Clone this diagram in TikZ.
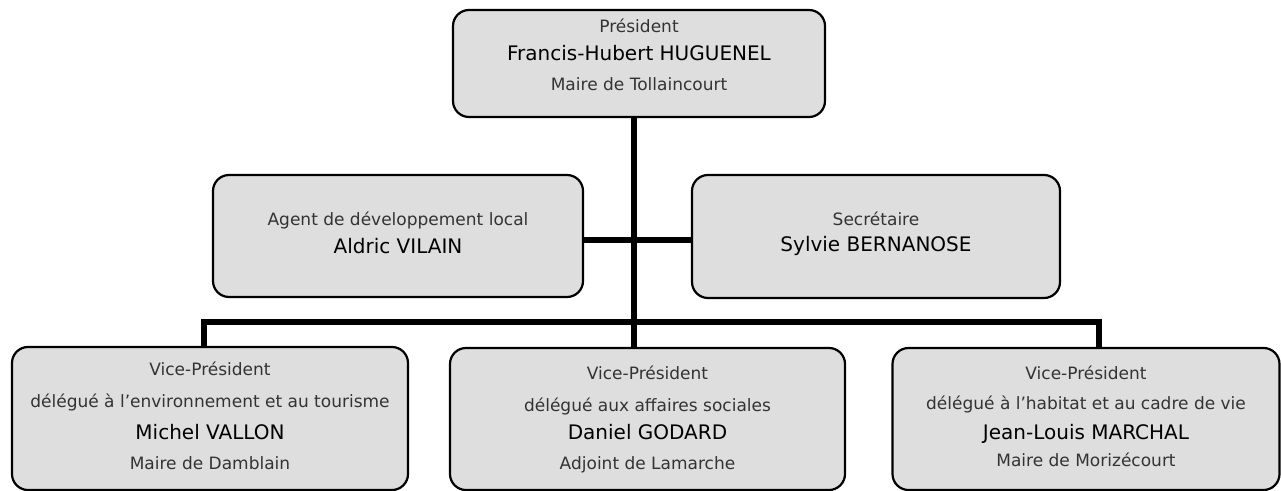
\documentclass[tikz,border=0pt]{standalone}
\usepackage{fontspec}
\setmainfont{DejaVu Sans}
\definecolor{boxfill}{HTML}{DEDEDE}
\definecolor{smalltext}{HTML}{333333}
\begin{document}
\begin{tikzpicture}[x=1pt,y=-1pt,
  box/.style={draw=black, line width=2.2pt, fill=boxfill, rounded corners=16pt, inner sep=0pt, outer sep=0pt},
  conn/.style={line width=6pt, line join=miter},
  sm/.style={anchor=mid, font=\fontsize{17}{19}\selectfont, text=smalltext, inner sep=0pt},
  nm/.style={anchor=mid, font=\fontsize{20}{23}\selectfont, text=black, inner sep=0pt}]
\useasboundingbox (0,0) rectangle (1281,490);
% boxes
\node[box, minimum width=372pt, minimum height=107pt] (top) at (639,63.5) {};
\node[box, minimum width=370pt, minimum height=122pt] (lm) at (398,236) {};
\node[box, minimum width=368pt, minimum height=123pt] (rm) at (876,236.5) {};
\node[box, minimum width=396pt, minimum height=143pt] (bl) at (210,418.5) {};
\node[box, minimum width=395pt, minimum height=142pt] (bm) at (647.5,419) {};
\node[box, minimum width=387pt, minimum height=142pt] (br) at (1086,419) {};
% connectors
\coordinate (jl) at (204,322);
\coordinate (jr) at (1099,322);
\coordinate (jm) at (634,322);
\coordinate (jh) at (0,240);
\draw[conn] (bl.north -| jl) -- (jl) -- (jr) -- (br.north -| jr);
\draw[conn] (top.south -| jm) -- (bm.north -| jm);
\draw[conn] (lm.east |- jh) -- (rm.west |- jh);
% texts
\node[sm] (t1) at (639,30) {Président};
\node[nm] (t2) at (639,58) {Francis-Hubert HUGUENEL};
\node[sm] (t3) at (639,88) {Maire de Tollaincourt};
\node[sm] (l1) at (398,223) {Agent de développement local};
\node[nm] (l2) at (398,251) {Aldric VILAIN};
\node[sm] (r1) at (876,223) {Secrétaire};
\node[nm] (r2) at (876,249) {Sylvie BERNANOSE};
\node[sm] (a1) at (210,373) {Vice-Président};
\node[sm] (a2) at (210,405) {délégué à l’environnement et au tourisme};
\node[nm] (a3) at (210,437) {Michel VALLON};
\node[sm] (a4) at (210,467) {Maire de Damblain};
\node[sm] (b1) at (647.5,377) {Vice-Président};
\node[sm] (b2) at (647.5,409) {délégué aux affaires sociales};
\node[nm] (b3) at (647.5,437) {Daniel GODARD};
\node[sm] (b4) at (647.5,467) {Adjoint de Lamarche};
\node[sm] (c1) at (1086,377) {Vice-Président};
\node[sm] (c2) at (1086,407) {délégué à l’habitat et au cadre de vie};
\node[nm] (c3) at (1086,437) {Jean-Louis MARCHAL};
\node[sm] (c4) at (1086,464) {Maire de Morizécourt};
\end{tikzpicture}
\end{document}
